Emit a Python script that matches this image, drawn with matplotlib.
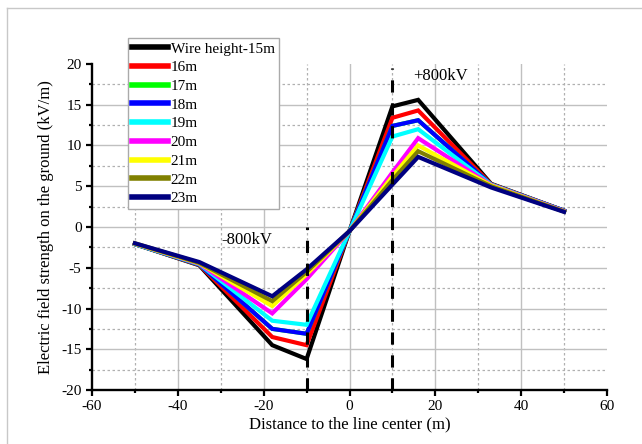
import matplotlib
matplotlib.use("Agg")
import matplotlib.pyplot as plt
from matplotlib.ticker import MultipleLocator
from matplotlib.lines import Line2D

plt.rcParams['font.family'] = ['Liberation Serif', 'DejaVu Serif']
plt.rcParams['axes.unicode_minus'] = False

distance = [-50, -35, -18, -10, 0, 10, 16, 33, 50]
labels = ['Wire height-15m', '16m', '17m', '18m', '19m', '20m', '21m', '22m', '23m']
colors = ['#000000', '#FF0000', '#00FF00', '#0000FF', '#00FFFF', '#FF00FF', '#FFFF00', '#808000', '#000080']

h15 = [-2.1, -4.7, -14.5, -16.2, -0.5, 14.8, 15.6, 5.3, 2.0]
h16 = [-2.1, -4.65, -13.5, -14.5, -0.5, 13.4, 14.3, 5.25, 2.0]
h17 = [-2.1, -4.6, -12.5, -13.1, -0.5, 12.4, 13.1, 5.2, 2.0]
h18 = [-2.1, -4.6, -12.5, -13.1, -0.5, 12.4, 13.1, 5.2, 2.0]
h19 = [-2.1, -4.55, -11.5, -12.0, -0.5, 11.1, 12.0, 5.2, 1.95]
h20 = [-2.05, -4.5, -10.6, -6.4, -0.5, 6.7, 10.9, 5.15, 1.95]
h21 = [-2.05, -4.45, -9.7, -5.8, -0.5, 6.2, 10.0, 5.1, 1.9]
h22 = [-2.0, -4.4, -9.1, -5.5, -0.5, 5.75, 9.3, 5.0, 1.9]
h23 = [-2.0, -4.3, -8.5, -5.2, -0.5, 5.2, 8.6, 4.85, 1.85]
series = [h15, h16, h17, h18, h19, h20, h21, h22, h23]

fig = plt.figure(figsize=(6.42, 4.44), dpi=100)
ax = fig.add_axes([92/642, 1-390/444, (607-92)/642, (390-64)/444])

for s, lab, c in zip(series, labels, colors):
    ax.plot(distance, s, color=c, lw=3, label=lab, solid_joinstyle='miter')

ax.axvline(-10, ymin=0, ymax=0.5, color='black', lw=2.2, linestyle=(0, (4, 3.5)))
ax.axvline(10, ymin=0, ymax=(19.5+20)/40, color='black', lw=2.2, linestyle=(0, (4, 3.5)))

ax.text(-23.9, -1.6, '-800kV', ha='center', va='center', fontsize=12)
ax.text(21.3, 18.5, '+800kV', ha='center', va='center', fontsize=12)

ax.set_xlim(-60, 60)
ax.set_ylim(-20, 20)
ax.xaxis.set_major_locator(MultipleLocator(20))
ax.xaxis.set_minor_locator(MultipleLocator(10))
ax.yaxis.set_major_locator(MultipleLocator(5))
ax.yaxis.set_minor_locator(MultipleLocator(2.5))

ax.grid(which='major', color='#c0c0c0', lw=1.0, linestyle='-')
ax.grid(which='minor', color='#b0b0b0', lw=0.9, linestyle=(0, (2, 2)))
ax.set_axisbelow(True)

for sp in ['top', 'right']:
    ax.spines[sp].set_visible(False)
for sp in ['left', 'bottom']:
    ax.spines[sp].set_linewidth(1.7)

ax.tick_params(which='major', direction='out', length=4.5, width=1.6, labelsize=11, pad=3)
ax.tick_params(which='minor', direction='out', length=2.5, width=1.6)

ax.set_xlabel('Distance to the line center (m)', fontsize=12, labelpad=2)
ax.set_ylabel('Electric field strength on the ground (kV/m)', fontsize=12, labelpad=5)

leg = ax.legend(loc='upper left', bbox_to_anchor=(128/642, 1-38/444), bbox_transform=fig.transFigure,
                borderaxespad=0, fontsize=11, handlelength=2.4, handletextpad=0.15,
                labelspacing=0.33, borderpad=0.25, fancybox=False, framealpha=1)
leg.get_frame().set_edgecolor('#aaaaaa')
leg.get_frame().set_linewidth(1.0)
for l in leg.get_lines():
    l.set_linewidth(4)

fig.canvas.draw()
for t in ax.xaxis.get_major_ticks():
    if abs(t.get_loc()) >= 60:
        t.gridline.set_visible(False)
for t in ax.yaxis.get_major_ticks():
    if abs(t.get_loc()) >= 20:
        t.gridline.set_visible(False)

fig.add_artist(Line2D([7/642, 7/642], [0, 1-8/444], transform=fig.transFigure, color='#c8c8c8', lw=1))
fig.add_artist(Line2D([7/642, 1], [1-8/444, 1-8/444], transform=fig.transFigure, color='#c8c8c8', lw=1))

fig.savefig('out.png', dpi=100)
